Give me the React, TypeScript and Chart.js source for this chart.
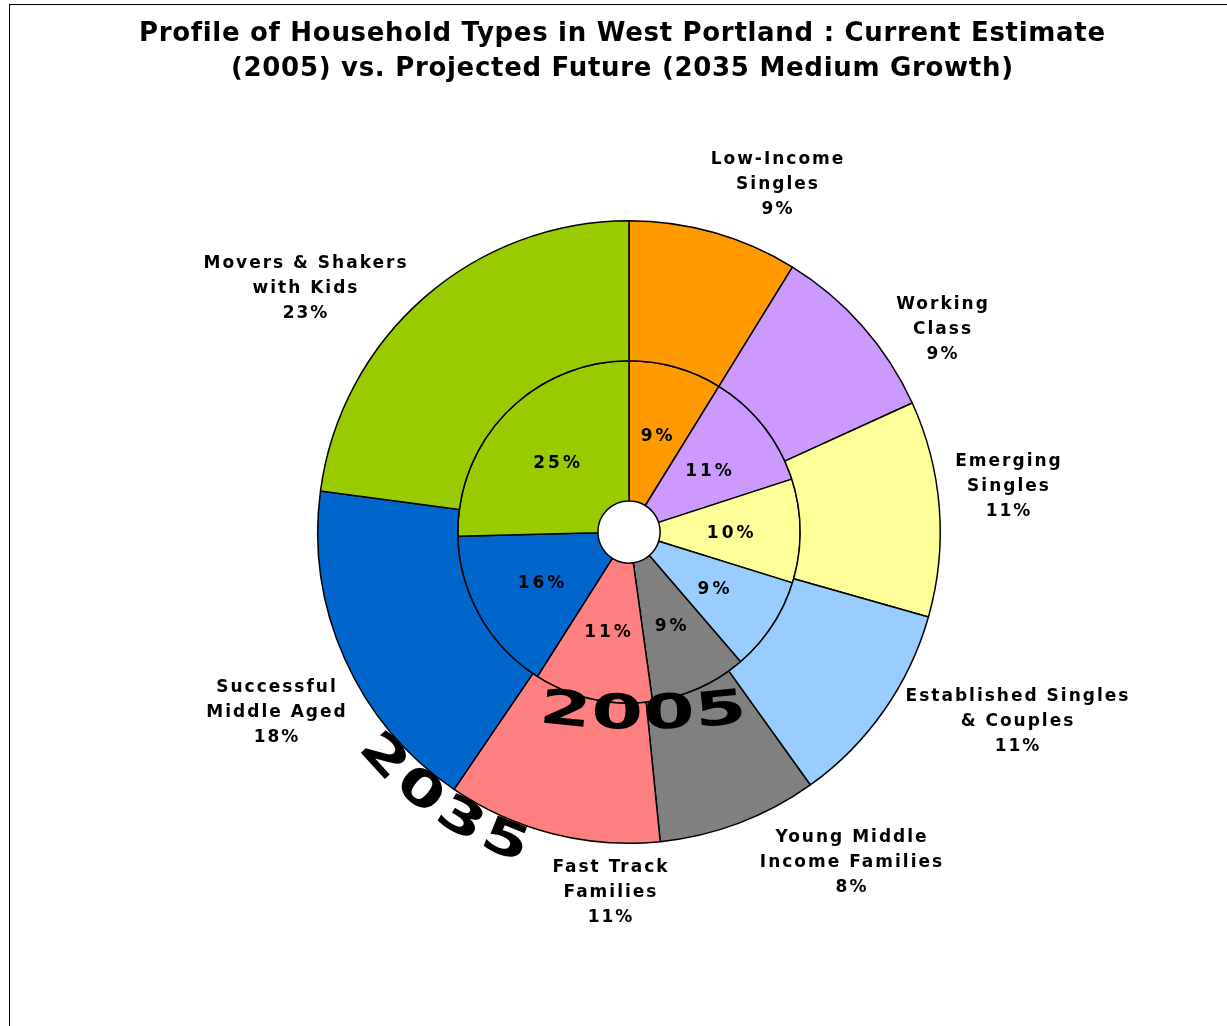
import React, { useEffect, useRef } from 'react';
import { Chart, registerables } from 'chart.js';

Chart.register(...registerables);

// ---------- data ----------
const categories = [
  'Low-Income Singles',
  'Working Class',
  'Emerging Singles',
  'Established Singles & Couples',
  'Young Middle Income Families',
  'Fast Track Families',
  'Successful Middle Aged',
  'Movers & Shakers with Kids',
];
const labelLines = [
  ['Low-Income', 'Singles'],
  ['Working', 'Class'],
  ['Emerging', 'Singles'],
  ['Established Singles', '& Couples'],
  ['Young Middle', 'Income Families'],
  ['Fast Track', 'Families'],
  ['Successful', 'Middle Aged'],
  ['Movers & Shakers', 'with Kids'],
];
const values2035 = [8.8, 9.4, 11.2, 10.7, 8.3, 11.1, 17.6, 22.9];
const values2005 = [8.8, 11.2, 9.8, 8.9, 9.1, 11.2, 15.6, 25.4];
const ringNames = ['2035', '2005'];
const titleLines = [
  'Profile of Household Types in West Portland : Current Estimate',
  '(2005) vs. Projected Future (2035 Medium Growth)',
];

// ---------- style / layout ----------
const colors = ['#FF9900', '#CC99FF', '#FFFF99', '#99CCFF', '#808080', '#FF8080', '#0066CC', '#99CC00'];
// outer-label block centres (middle line), relative to the pie centre
const outerLabelOffsets = [
  [148, -347],
  [313, -202],
  [379, -45],
  [388, 190],
  [222, 331],
  [-19, 361],
  [-353, 181],
  [-324, -243],
];
const FONT = '"DejaVu Sans", Verdana, sans-serif';

function pct(v: number, arr: number[]) {
  const t = arr.reduce((a, b) => a + b, 0);
  return Math.round((v / t) * 100) + '%';
}

function drawArcText(
  ctx: CanvasRenderingContext2D,
  text: string,
  cx: number,
  cy: number,
  r: number,
  centerAngle: number,
  advance: number,
  font: string,
  scaleX: number
) {
  const n = text.length;
  ctx.save();
  ctx.font = font;
  ctx.fillStyle = '#000';
  ctx.textAlign = 'center';
  ctx.textBaseline = 'middle';
  for (let i = 0; i < n; i++) {
    const a = centerAngle - ((i - (n - 1) / 2) * advance) / r;
    const x = cx + r * Math.cos(a);
    const y = cy + r * Math.sin(a);
    ctx.save();
    ctx.translate(x, y);
    ctx.rotate(a - Math.PI / 2);
    ctx.scale(scaleX, 1);
    ctx.fillText(text[i], 0, 0);
    ctx.restore();
  }
  ctx.restore();
}

function centeredText(ctx: CanvasRenderingContext2D, t: string, x: number, y: number, ls: number) {
  // compensate trailing letter spacing so the text stays centred
  ctx.fillText(t, x + ls / 2, y);
}

const decorPlugin = {
  id: 'decor',
  afterDraw(chart: any) {
    const ctx: CanvasRenderingContext2D = chart.ctx;
    const outerMeta = chart.getDatasetMeta(0);
    const innerMeta = chart.getDatasetMeta(1);
    const arc0 = outerMeta.data[0];
    const cx = arc0.x;
    const cy = arc0.y;
    const outerR = arc0.outerRadius;
    const innerRingR = innerMeta.data[0].outerRadius;

    ctx.save();
    // frame
    ctx.strokeStyle = '#000';
    ctx.lineWidth = 1;
    ctx.strokeRect(9.5, 4.5, 1400, 1200);

    // title
    ctx.fillStyle = '#000';
    ctx.textAlign = 'center';
    ctx.textBaseline = 'middle';
    ctx.font = `bold 26px ${FONT}`;
    (ctx as any).letterSpacing = '0.7px';
    titleLines.forEach((t, i) => centeredText(ctx, t, 622, 34 + i * 35, 0.7));

    // inner ring labels
    ctx.font = `bold 17px ${FONT}`;
    (ctx as any).letterSpacing = '3px';
    innerMeta.data.forEach((el: any, i: number) => {
      const mid = (el.startAngle + el.endAngle) / 2;
      const rr = (el.innerRadius + el.outerRadius) / 2;
      centeredText(ctx, pct(values2005[i], values2005), cx + rr * Math.cos(mid), cy + rr * Math.sin(mid) + 2, 3);
    });

    // outer labels
    (ctx as any).letterSpacing = '2px';
    labelLines.forEach((lines, i) => {
      const [dx, dy] = outerLabelOffsets[i];
      const all = [...lines, pct(values2035[i], values2035)];
      all.forEach((t, j) => {
        centeredText(ctx, t, cx + dx, cy + dy + (j - 1) * 25, 2);
      });
    });
    (ctx as any).letterSpacing = '0px';
    ctx.restore();

    // curved ring names
    const a2035 = ((214.7 - 90) * Math.PI) / 180;
    drawArcText(ctx, ringNames[0], cx, cy, outerR + 23, a2035, 50, `bold 48px ${FONT}`, 1.4);
    const R2005 = 800;
    drawArcText(ctx, ringNames[1], cx + 14, cy + innerRingR + 13 - R2005, R2005, Math.PI / 2, 52, `bold 48px ${FONT}`, 1.55);
  },
};

export default function App() {
  const ref = useRef<HTMLCanvasElement>(null);
  useEffect(() => {
    if (!ref.current) return;
    const chart = new Chart(ref.current, {
      type: 'doughnut',
      data: {
        labels: categories,
        datasets: [
          {
            label: ringNames[0],
            data: values2035,
            backgroundColor: colors,
            borderColor: '#000',
            borderWidth: 1.5,
          },
          {
            label: ringNames[1],
            data: values2005,
            backgroundColor: colors,
            borderColor: '#000',
            borderWidth: 1.5,
          },
        ],
      },
      options: {
        responsive: false,
        maintainAspectRatio: false,
        animation: false,
        devicePixelRatio: 1,
        cutout: '10%',
        layout: { padding: { left: 317, top: 220, right: 286, bottom: 182 } },
        plugins: {
          legend: { display: false },
          title: { display: false },
          tooltip: { enabled: false },
        },
      },
      plugins: [decorPlugin],
    });
    return () => chart.destroy();
  }, []);
  return (
    <div style={{ position: 'fixed', left: 0, top: 0, width: 1227, height: 1026, background: '#fff' }}>
      <canvas ref={ref} width={1227} height={1026} style={{ display: 'block', width: 1227, height: 1026 }} />
    </div>
  );
}
